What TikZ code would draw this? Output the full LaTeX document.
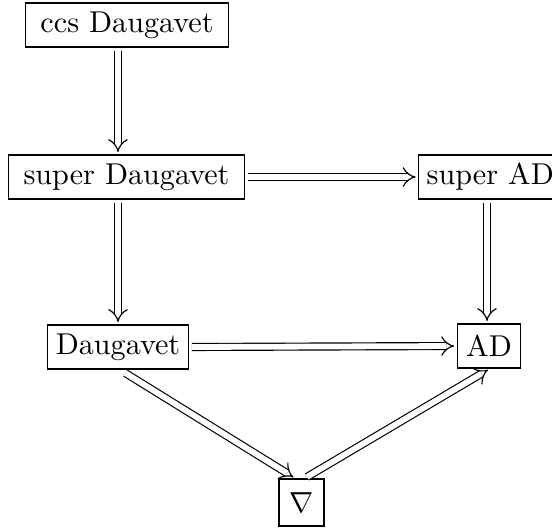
\documentclass[tikz,border=0pt]{standalone}
\usetikzlibrary{arrows.meta,calc}
\begin{document}
\begin{tikzpicture}[x=0.345pt,y=-0.345pt,
  box/.style={draw,line width=0.4pt,inner xsep=2.8pt,inner ysep=0pt,minimum height=15.2pt,font=\fontsize{10.4}{12.5}\selectfont},
  imp/.style={double,double distance=2pt,line width=0.4pt,-{Implies},shorten <=1pt,shorten >=0.8pt}]
\useasboundingbox (0,0) rectangle (552,530);
\node[box,minimum width=70.3pt] (ccs) at (127,25) {ccs Daugavet};
\node[box,minimum width=81.7pt] (sd) at (126.5,177) {super Daugavet};
\node[box,anchor=west] (sad) at (418,177) {super AD};
\node[box,minimum width=48.3pt] (daug) at (118,347) {Daugavet};
\node[box,minimum width=22pt] (ad) at (489,346) {AD};
\node[box,minimum width=15.5pt,minimum height=16.2pt] (nab) at (301.5,502.5) {$\nabla$};
\coordinate (c1) at (118,0);
\coordinate (c2) at (487,0);
\draw[imp] (ccs.south -| c1) -- (sd.north -| c1);
\draw[imp] (sd.south -| c1) -- (daug.north -| c1);
\draw[imp] (sad.south -| c2) -- (ad.north -| c2);
\draw[imp] (sd.east) -- (sad.west);
\draw[imp] (daug.east) -- (ad.west);
\draw[imp] ($(daug.south)+(5,2)$) -- ($(nab.north)+(-6,0)$);
\draw[imp] ($(nab.north)+(3,0)$) -- ($(ad.south)+(1,0)$);
\end{tikzpicture}
\end{document}
